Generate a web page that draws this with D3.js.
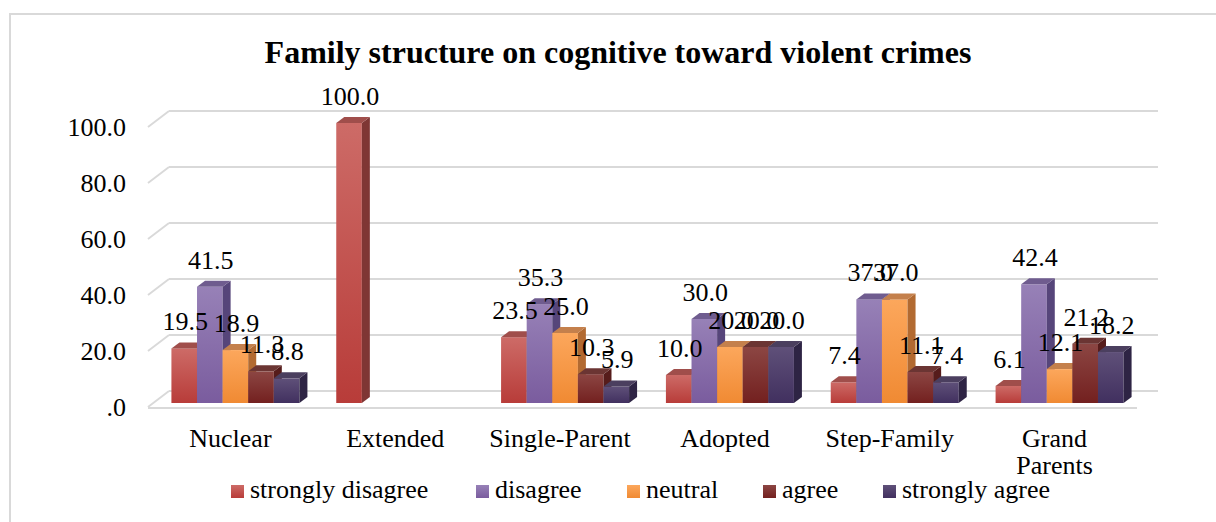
<!DOCTYPE html>
<html>
<head>
<meta charset="utf-8">
<script src="https://cdn.jsdelivr.net/npm/d3@7"></script>
<style>
  body { margin: 0; background: #fff; }
  svg text { font-family: "Liberation Serif", "Times New Roman", serif; fill: #000; }
</style>
</head>
<body>
<svg id="chart" width="1216" height="522"></svg>
<script>
// chart data
var categories = ["Nuclear", "Extended", "Single-Parent", "Adopted", "Step-Family", "Grand Parents"];
var seriesNames = ["strongly disagree", "disagree", "neutral", "agree", "strongly agree"];
var stronglyDisagree = [19.5, 100.0, 23.5, 10.0, 7.4, 6.1];
var disagree = [41.5, null, 35.3, 30.0, 37.0, 42.4];
var neutral = [18.9, null, 25.0, 20.0, 37.0, 12.1];
var agree = [11.3, null, 10.3, 20.0, 11.1, 21.2];
var stronglyAgree = [8.8, null, 5.9, 20.0, 7.4, 18.2];
var yTicks = [0, 20, 40, 60, 80, 100];

var seriesValues = [stronglyDisagree, disagree, neutral, agree, stronglyAgree];

// colours: front gradient top/bottom, side, top face
var palette = [
    {hi: "#cd6b67", lo: "#b83c39", side: "#7f3634", top: "#a04e4b", key: "#c0504d"},
    {hi: "#9781b7", lo: "#7a5c9e", side: "#56457a", top: "#6f5c8f", key: "#8064a2"},
    {hi: "#fca75c", lo: "#f08a33", side: "#b26a31", top: "#c4804c", key: "#f79646"},
    {hi: "#8c4643", lo: "#73201f", side: "#561c1b", top: "#6b3533", key: "#772c2a"},
    {hi: "#5f5079", lo: "#41305f", side: "#2e2444", top: "#4b3f5f", key: "#4d3b62"}
];

var svg = d3.select("#chart");

// outer frame
svg.append("rect")
    .attr("x", 10).attr("y", 14)
    .attr("width", 1230).attr("height", 540)
    .attr("fill", "none")
    .attr("stroke", "#d9d9d9")
    .attr("stroke-width", 2);

// title
svg.append("text")
    .attr("x", 618).attr("y", 63)
    .attr("text-anchor", "middle")
    .style("font-size", "32px")
    .style("font-weight", "bold")
    .text("Family structure on cognitive toward violent crimes");

// plot geometry (front plane), wall depth and bar depth
var left = 148, right = 1137;
var wallDx = 21, wallDy = -16;
var barDx = 5, barDy = -4;
var depthX = 8, depthY = -6;

var y = d3.scaleLinear().domain([0, 100]).range([407, 127]);
var x0 = d3.scaleBand().domain(categories).range([left, right]);
var groupW = 128;
var x1 = d3.scaleBand().domain(seriesNames)
    .range([(x0.bandwidth() - groupW) / 2, (x0.bandwidth() + groupW) / 2]);

var defs = svg.append("defs");
palette.forEach(function(c, i) {
    var g = defs.append("linearGradient")
        .attr("id", "grad" + i)
        .attr("x1", 0).attr("y1", 0).attr("x2", 0).attr("y2", 1);
    g.append("stop").attr("offset", "0%").attr("stop-color", c.hi);
    g.append("stop").attr("offset", "100%").attr("stop-color", c.lo);
});

// gridlines: back wall + left wall diagonals
var grid = svg.append("g").attr("stroke", "#d9d9d9").attr("stroke-width", 2).attr("fill", "none");
yTicks.forEach(function(t) {
    grid.append("line")
        .attr("x1", left + wallDx).attr("x2", right + wallDx + 0)
        .attr("y1", y(t) + wallDy).attr("y2", y(t) + wallDy);
    grid.append("line")
        .attr("x1", left).attr("x2", left + wallDx)
        .attr("y1", y(t)).attr("y2", y(t) + wallDy);
});
// floor front edge
grid.append("line")
    .attr("x1", left).attr("x2", right)
    .attr("y1", y(0) + 1).attr("y2", y(0) + 1);

// y axis labels
var fmtTick = function(v) { return v === 0 ? ".0" : d3.format(".1f")(v); };
svg.append("g").selectAll("text")
    .data(yTicks)
    .enter()
    .append("text")
    .attr("x", 126)
    .attr("y", function(d) { return y(d); })
    .attr("dy", "0.35em")
    .attr("text-anchor", "end")
    .style("font-size", "26px")
    .text(fmtTick);

// bars, drawn left to right so later bars cover earlier side faces
var bars = [];
categories.forEach(function(cat, ci) {
    seriesNames.forEach(function(s, si) {
        var v = seriesValues[si][ci];
        if (v === null) return;
        bars.push({cat: cat, series: s, si: si, value: v});
    });
});

var barG = svg.append("g");
bars.forEach(function(b) {
    var x = x0(b.cat) + x1(b.series) + barDx;
    var w = x1.bandwidth();
    var yb = y(0) + barDy;
    var yt = y(b.value) + barDy;
    var c = palette[b.si];
    var g = barG.append("g");
    g.append("rect")
        .attr("x", x).attr("y", yt)
        .attr("width", w).attr("height", yb - yt)
        .attr("fill", "url(#grad" + b.si + ")");
    g.append("path")
        .attr("d", "M" + (x + w) + "," + yt + "L" + (x + w + depthX) + "," + (yt + depthY) +
            "L" + (x + w + depthX) + "," + (yb + depthY) + "L" + (x + w) + "," + yb + "Z")
        .attr("fill", c.side);
    g.append("path")
        .attr("d", "M" + x + "," + yt + "L" + (x + depthX) + "," + (yt + depthY) +
            "L" + (x + w + depthX) + "," + (yt + depthY) + "L" + (x + w) + "," + yt + "Z")
        .attr("fill", c.top);
});

// value labels
svg.append("g").selectAll("text")
    .data(bars)
    .enter()
    .append("text")
    .attr("x", function(d) { return x0(d.cat) + x1(d.series) + barDx + x1.bandwidth() / 2 + 1; })
    .attr("y", function(d) { return y(d.value) + barDy - 18; })
    .attr("text-anchor", "middle")
    .style("font-size", "26px")
    .text(function(d) { return d3.format(".1f")(d.value); });

// category labels
var catG = svg.append("g");
categories.forEach(function(cat) {
    var words = cat === "Grand Parents" ? ["Grand", "Parents"] : [cat];
    var t = catG.append("text")
        .attr("x", x0(cat) + x0.bandwidth() / 2)
        .attr("y", 447)
        .attr("text-anchor", "middle")
        .style("font-size", "26px");
    words.forEach(function(wd, i) {
        t.append("tspan")
            .attr("x", x0(cat) + x0.bandwidth() / 2)
            .attr("dy", i === 0 ? 0 : 27)
            .text(wd);
    });
});

// legend
var legendX = [231, 476, 627, 763, 883];
var legend = svg.append("g");
seriesNames.forEach(function(s, i) {
    legend.append("rect")
        .attr("x", legendX[i]).attr("y", 485)
        .attr("width", 13).attr("height", 13)
        .attr("fill", "url(#grad" + i + ")");
    legend.append("text")
        .attr("x", legendX[i] + 19).attr("y", 498)
        .style("font-size", "26px")
        .text(s);
});
</script>
</body>
</html>
